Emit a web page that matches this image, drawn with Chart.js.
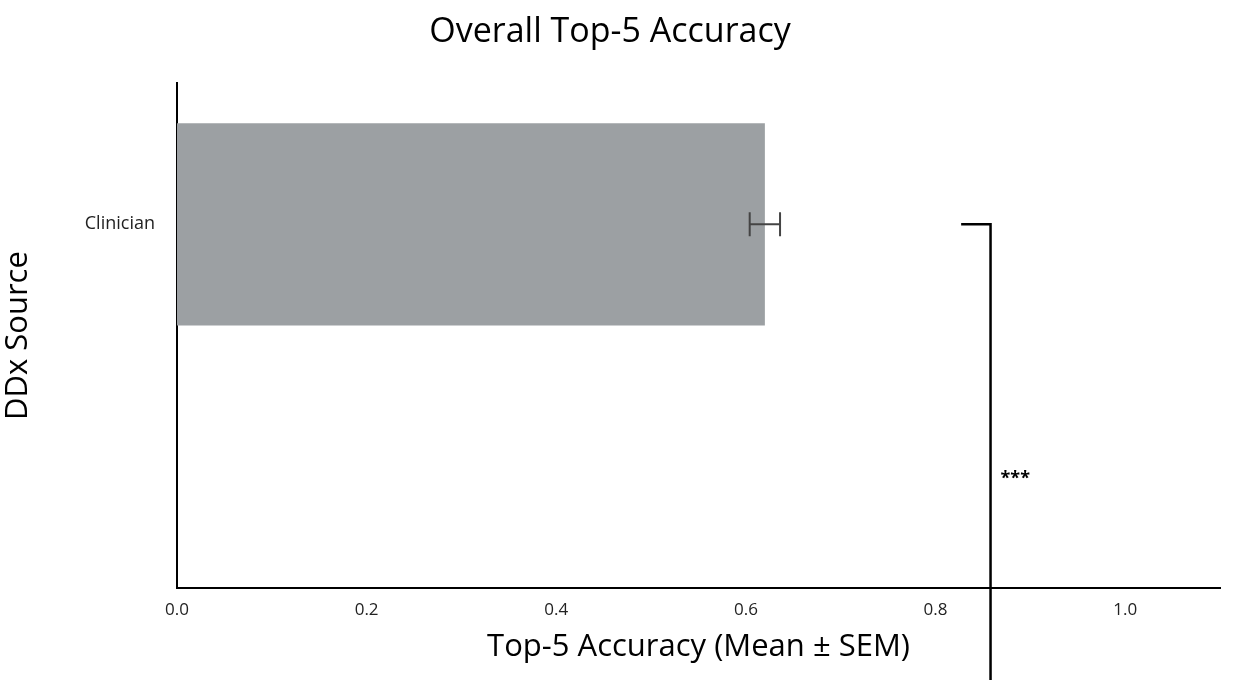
<!DOCTYPE html>
<html><head><meta charset="utf-8">
<script src="https://cdn.jsdelivr.net/npm/chart.js@4/dist/chart.umd.min.js"></script>
<style>html,body{margin:0;background:#fff}#w{width:1250px;height:680px}</style>
</head><body><div id="w"><canvas id="c"></canvas></div>
<script>
const categories = ["Clinician", "SymptomAI"];
const means = [0.620, 0.728];
const sem = [0.016, 0.019];
const colors = ["#9ca0a3", "#c0453c"];
const xTicks = [0.0, 0.2, 0.4, 0.6, 0.8, 1.0];
const sigLabel = "***";
const bracketX = [0.827, 0.858];

const errPlugin = {
  id: 'err',
  afterDatasetsDraw(chart) {
    const ctx = chart.ctx, x = chart.scales.x, y = chart.scales.y;
    ctx.save();
    ctx.strokeStyle = '#444'; ctx.lineWidth = 2;
    means.forEach((m, i) => {
      const yc = y.getPixelForValue(i);
      const x1 = x.getPixelForValue(m - sem[i]), x2 = x.getPixelForValue(m + sem[i]);
      ctx.beginPath();
      ctx.moveTo(x1, yc); ctx.lineTo(x2, yc);
      ctx.moveTo(x1, yc - 12); ctx.lineTo(x1, yc + 12);
      ctx.moveTo(x2, yc - 12); ctx.lineTo(x2, yc + 12);
      ctx.stroke();
    });
    const y0 = y.getPixelForValue(0), y1 = y.getPixelForValue(1);
    const bx0 = x.getPixelForValue(bracketX[0]), bx1 = x.getPixelForValue(bracketX[1]);
    ctx.strokeStyle = '#000'; ctx.lineWidth = 2.5;
    ctx.beginPath();
    ctx.moveTo(bx0, y0); ctx.lineTo(bx1, y0); ctx.lineTo(bx1, y1); ctx.lineTo(bx0, y1);
    ctx.stroke();
    ctx.fillStyle = '#000'; ctx.font = 'bold 18px "Open Sans"';
    ctx.textAlign = 'left'; ctx.textBaseline = 'middle';
    ctx.fillText(sigLabel, bx1 + 10, (y0 + y1) / 2 + 2);
    ctx.restore();
  }
};

new Chart(document.getElementById('c'), {
  type: 'bar',
  data: { labels: categories, datasets: [{ data: means, backgroundColor: colors, barPercentage: 0.4, categoryPercentage: 1 }] },
  options: {
    indexAxis: 'y', responsive: true, maintainAspectRatio: false, animation: false,
    layout: { padding: { left: 0, right: 30, top: 0, bottom: 10 } },
    plugins: {
      legend: { display: false }, tooltip: { enabled: false },
      title: { display: true, text: 'Overall Top-5 Accuracy', color: '#000',
        font: { family: 'Open Sans', size: 34, weight: 'normal' }, padding: { top: 12, bottom: 30 } }
    },
    scales: {
      x: { min: 0, max: 1.1, afterBuildTicks: s => { s.ticks = xTicks.map(v => ({ value: v })); },
        grid: { display: false, drawTicks: true, tickLength: 6, color: '#000' },
        border: { color: '#000', width: 2 },
        ticks: { color: '#222', font: { family: 'Open Sans', size: 17 }, callback: v => v.toFixed(1), padding: 6 },
        title: { display: true, text: 'Top-5 Accuracy (Mean ± SEM)', color: '#000', font: { family: 'Open Sans', size: 31 }, padding: { top: 2 } } },
      y: { offset: false, grid: { display: false }, border: { color: '#000', width: 2 },
        afterDataLimits: s => { s.min = -0.28; s.max = 1.28; },
        afterBuildTicks: s => { s.ticks = categories.map((c, i) => ({ value: i })); },
        afterFit: s => { s.width = 177; },
        ticks: { color: '#222', font: { family: 'Open Sans', size: 18 }, padding: 14 },
        title: { display: true, text: 'DDx Source', color: '#000', font: { family: 'Open Sans', size: 31 }, padding: 0 } }
    }
  },
  plugins: [errPlugin]
});
</script></body></html>
